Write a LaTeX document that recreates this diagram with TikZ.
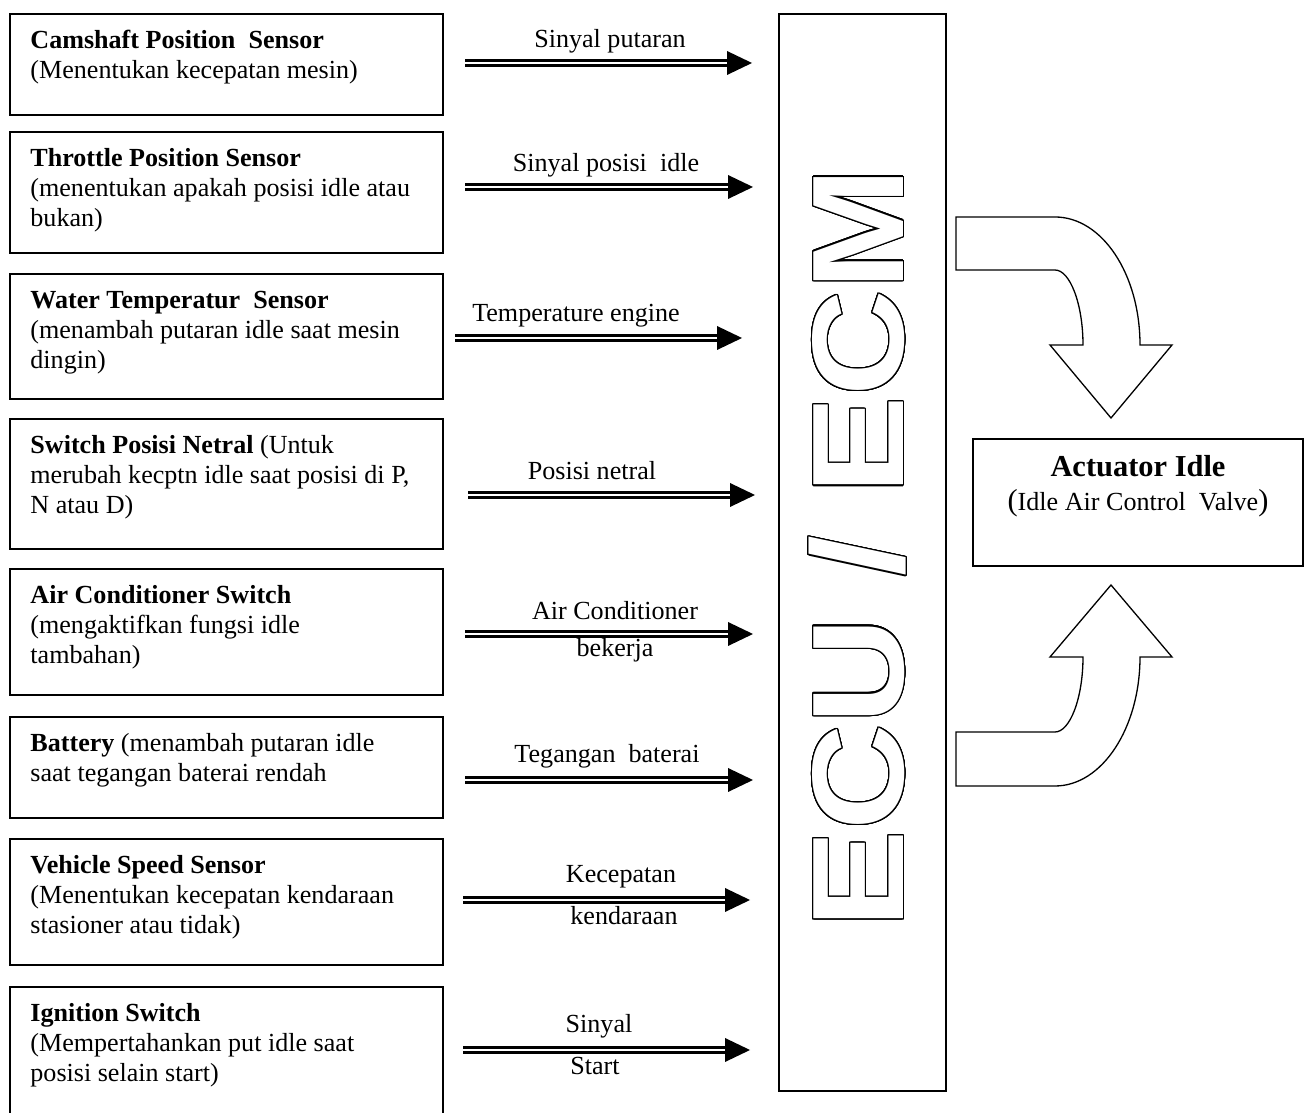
\documentclass[tikz,border=0pt]{standalone}
\usepackage{fontspec}
\setmainfont{Liberation Serif}
\newfontfamily\ecufont[FakeStretch=1.13]{Liberation Sans}
\usepackage{contour}
\contourlength{0.55pt}
\contournumber{32}
\usetikzlibrary{positioning,calc}
\newcommand{\pxu}{0.46pt}

\begin{document}
\begin{tikzpicture}[x=\pxu,y=-\pxu,font=\fontsize{12}{13.8}\selectfont,
      sensor/.style={rectangle, draw, line width=0.9pt, anchor=north west, minimum width=433*\pxu, inner sep=0pt},
      desc/.style={anchor=north west, align=left, inner sep=0pt},
      sigline/.style={double, line width=1.1pt, double distance=1.1pt, shorten >=9pt},
      siglabel/.style={anchor=base, inner sep=0pt},
      bigarrow/.style={draw, line width=0.6pt, fill=white, line join=miter}]
    \useasboundingbox (0,0) rectangle (1304,1113);

    \node[sensor, minimum height=101*\pxu] (cam) at (9,13) {};
    \node[sensor, minimum height=121*\pxu] (tps) at (9,131) {};
    \node[sensor, minimum height=125*\pxu] (wts) at (9,273) {};
    \node[sensor, minimum height=130*\pxu] (nsw) at (9,418) {};
    \node[sensor, minimum height=126*\pxu] (acs) at (9,568) {};
    \node[sensor, minimum height=101*\pxu] (bat) at (9,716) {};
    \node[sensor, minimum height=126*\pxu] (vss) at (9,838) {};
    \node[sensor, minimum height=145*\pxu] (ign) at (9,986) {};

    \node[desc] (camtxt) at ([shift={(21,14)}]cam.north west) {\strut\textbf{Camshaft Position\ \ Sensor}\\(Menentukan kecepatan mesin)};
    \node[desc] (tpstxt) at ([shift={(21,14)}]tps.north west) {\strut\textbf{Throttle Position Sensor}\\(menentukan apakah posisi idle atau\\bukan)};
    \node[desc] (wtstxt) at ([shift={(21,14)}]wts.north west) {\strut\textbf{Water Temperatur\ \ Sensor}\\(menambah putaran idle saat mesin\\dingin)};
    \node[desc] (nswtxt) at ([shift={(21,14)}]nsw.north west) {\strut\textbf{Switch Posisi Netral} (Untuk\\merubah kecptn idle saat posisi di P,\\N atau D)};
    \node[desc] (acstxt) at ([shift={(21,14)}]acs.north west) {\strut\textbf{Air Conditioner Switch}\\(mengaktifkan fungsi idle\\tambahan)};
    \node[desc] (battxt) at ([shift={(21,14)}]bat.north west) {\strut\textbf{Battery} (menambah putaran idle\\saat tegangan baterai rendah};
    \node[desc] (vsstxt) at ([shift={(21,14)}]vss.north west) {\strut\textbf{Vehicle Speed Sensor}\\(Menentukan kecepatan kendaraan\\stasioner atau tidak)};
    \node[desc] (igntxt) at ([shift={(21,14)}]ign.north west) {\strut\textbf{Ignition Switch}\\(Mempertahankan put idle saat\\posisi selain start)};

    \node[draw, line width=0.8pt, anchor=north west, minimum width=167*\pxu, minimum height=1077*\pxu, inner sep=0pt] (ecu) at (778,13) {};
    \node[rotate=90, inner sep=0pt] (ecutxt) at (858,548) {\ecufont\bfseries\fontsize{60}{60}\selectfont\color{white}\contour{black}{ECU / ECM}};

    \node[draw, line width=0.8pt, anchor=north west, minimum width=330*\pxu, minimum height=127*\pxu, inner sep=0pt] (act) at (972,438) {};
    \node[align=center, anchor=north, inner sep=0pt] (acttxt) at (1138,452) {\fontsize{14}{16}\selectfont\strut\textbf{Actuator Idle}\\{\fontsize{14}{16}\selectfont(}Idle Air Control\ \ Valve{\fontsize{14}{16}\selectfont)}};

    \foreach \i/\y/\xa/\xb in {1/63/465/752, 2/187/465/753, 3/338/455/742, 4/495/468/755,
                               5/634/465/753, 6/780/465/753, 7/900/463/750, 8/1050/463/750} {
      \coordinate (src\i) at (\xa,\y);
      \coordinate (dst\i) at (\xb,\y);
      \draw[sigline] (src\i) -- (dst\i);
      \fill (dst\i) -- ++(-25,-12) -- ++(0,24) -- cycle;
    }

    \node[siglabel] (lbl1) at (610,48) {Sinyal putaran};
    \node[siglabel] (lbl2) at (606,172) {Sinyal posisi\ \ idle};
    \node[siglabel] (lbl3) at (576,322) {Temperature engine};
    \node[siglabel] (lbl4) at (592,480) {Posisi netral};
    \node[siglabel] (lbl5a) at (615,620) {Air Conditioner};
    \node[siglabel] (lbl5b) at (615,657) {bekerja};
    \node[siglabel] (lbl6) at (607,763) {Tegangan\ \ baterai};
    \node[siglabel] (lbl7a) at (621,883) {Kecepatan};
    \node[siglabel] (lbl7b) at (624,925) {kendaraan};
    \node[siglabel] (lbl8a) at (599,1033) {Sinyal};
    \node[siglabel] (lbl8b) at (595,1075) {Start};

    \draw[bigarrow] (956,217) -- (1055,217) .. controls (1102,217) and (1140,274) .. (1140,345)
      -- (1172,345) -- (1111,418) -- (1050,345) -- (1083,345) .. controls (1083,304) and (1070,270) .. (1055,270)
      -- (956,270) -- cycle;
    \draw[bigarrow] (956,786) -- (1055,786) .. controls (1102,786) and (1140,728) .. (1140,657)
      -- (1172,657) -- (1111,585) -- (1050,657) -- (1083,657) .. controls (1083,698) and (1070,732) .. (1055,732)
      -- (956,732) -- cycle;
\end{tikzpicture}
\end{document}
